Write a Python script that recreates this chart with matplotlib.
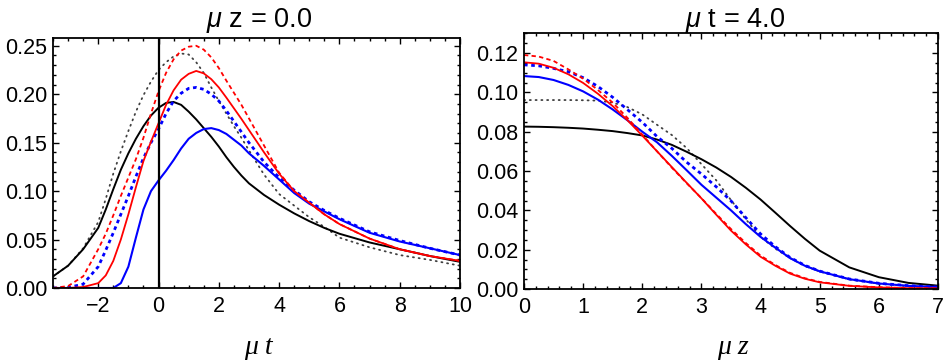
import numpy as np
import matplotlib
matplotlib.use("Agg")
import matplotlib.pyplot as plt
from matplotlib.ticker import MultipleLocator, FormatStrFormatter

plt.rcParams['font.family'] = ['Liberation Sans', 'DejaVu Sans']
plt.rcParams['mathtext.fontset'] = 'custom'
plt.rcParams['mathtext.rm'] = 'Liberation Sans'
plt.rcParams['mathtext.it'] = 'Liberation Sans:italic'
plt.rcParams['axes.unicode_minus'] = True

# ---------------- Left panel data (mu z = 0.0), x = mu t ----------------
t = [-3.5, -3, -2.5, -2, -1.75, -1.5, -1.25, -1, -0.75, -0.5, -0.25, 0, 0.25, 0.5,
     0.75, 1, 1.25, 1.5, 1.75, 2, 2.25, 2.5, 2.75, 3, 3.5, 4, 4.5, 5, 5.5, 6, 7, 8, 9, 10]

left_black = [0.012, 0.023, 0.040, 0.062, 0.081, 0.102, 0.122, 0.139, 0.154, 0.167, 0.178,
              0.186, 0.191, 0.192, 0.189, 0.182, 0.174, 0.165, 0.156, 0.146, 0.135, 0.125,
              0.116, 0.108, 0.096, 0.086, 0.077, 0.069, 0.062, 0.056, 0.047, 0.040, 0.033, 0.027]
left_black_dot = [0.012, 0.023, 0.041, 0.068, 0.092, 0.118, 0.141, 0.162, 0.182, 0.199, 0.213,
                  0.225, 0.233, 0.239, 0.242, 0.241, 0.233, 0.222, 0.207, 0.193, 0.180, 0.167,
                  0.155, 0.142, 0.117, 0.097, 0.085, 0.073, 0.063, 0.052, 0.042, 0.034, 0.029, 0.023]
left_red = [0.000, 0.000, 0.001, 0.005, 0.013, 0.028, 0.050, 0.076, 0.104, 0.131, 0.151,
            0.170, 0.189, 0.204, 0.215, 0.221, 0.224, 0.2215, 0.2155, 0.207, 0.1965, 0.1855,
            0.1745, 0.163, 0.140, 0.118, 0.100, 0.088, 0.076, 0.066, 0.051, 0.040, 0.033, 0.028]
left_red_dash = [0.000, 0.002, 0.012, 0.040, 0.056, 0.075, 0.095, 0.114, 0.133, 0.155, 0.180,
                 0.203, 0.222, 0.236, 0.245, 0.249, 0.250, 0.246, 0.238, 0.227, 0.214, 0.2015,
                 0.189, 0.175, 0.147, 0.119, 0.100, 0.088, 0.076, 0.066, 0.051, 0.040, 0.033, 0.028]
left_blue = [0.000, 0.000, 0.000, 0.000, 0.000, 0.000, 0.005, 0.022, 0.052, 0.081, 0.100,
             0.111, 0.121, 0.132, 0.144, 0.154, 0.160, 0.164, 0.165, 0.163, 0.159, 0.153,
             0.147, 0.139, 0.126, 0.112, 0.098, 0.087, 0.079, 0.071, 0.057, 0.048, 0.041, 0.034]
left_blue_dash = [0.000, 0.0005, 0.004, 0.022, 0.039, 0.057, 0.076, 0.095, 0.115, 0.134, 0.150,
                  0.164, 0.180, 0.193, 0.201, 0.206, 0.207, 0.205, 0.200, 0.193, 0.183, 0.172,
                  0.161, 0.150, 0.130, 0.114, 0.101, 0.089, 0.080, 0.072, 0.058, 0.049, 0.041, 0.034]

# ---------------- Right panel data (mu t = 4.0), x = mu z ----------------
z = [0, 0.25, 0.5, 0.75, 1, 1.25, 1.5, 1.75, 2, 2.25, 2.5, 2.75, 3, 3.25, 3.5, 3.75,
     4, 4.25, 4.5, 4.75, 5, 5.5, 6, 6.5, 7]

right_black = [0.0826, 0.0825, 0.0823, 0.0820, 0.0816, 0.0810, 0.0803, 0.0793, 0.0781,
               0.0760, 0.0733, 0.0698, 0.0660, 0.0618, 0.0570, 0.0515, 0.0455, 0.0388,
               0.0320, 0.0255, 0.0195, 0.0110, 0.0060, 0.0031, 0.0017]
right_black_dot = [0.0961, 0.0961, 0.0961, 0.0961, 0.0960, 0.0958, 0.0948, 0.0925, 0.0888,
                   0.0835, 0.0783, 0.0717, 0.0635, 0.0553, 0.0452, 0.0355, 0.0265, 0.0205,
                   0.0157, 0.0117, 0.0089, 0.0049, 0.0027, 0.0015, 0.0009]
right_red = [0.1153, 0.1146, 0.1125, 0.1092, 0.1048, 0.0993, 0.0930, 0.0858, 0.0780,
             0.0700, 0.0620, 0.0540, 0.0461, 0.0378, 0.0297, 0.0227, 0.0164, 0.0118,
             0.0078, 0.0052, 0.0034, 0.0016, 0.0008, 0.0004, 0.0003]
right_red_dash = [0.1190, 0.1182, 0.1160, 0.1117, 0.1070, 0.1012, 0.0948, 0.0870, 0.0785,
                  0.0700, 0.0617, 0.0538, 0.0462, 0.0382, 0.0305, 0.0234, 0.0170, 0.0122,
                  0.0082, 0.0055, 0.0036, 0.0017, 0.0009, 0.0005, 0.0003]
right_blue = [0.1083, 0.1078, 0.1063, 0.1038, 0.1005, 0.0963, 0.0913, 0.0858, 0.0800,
              0.0746, 0.0677, 0.0604, 0.0530, 0.0465, 0.0400, 0.0330, 0.0265, 0.0210,
              0.0157, 0.0118, 0.0090, 0.0050, 0.0028, 0.0016, 0.0010]
right_blue_dash = [0.1140, 0.1135, 0.1122, 0.1105, 0.1075, 0.1030, 0.0975, 0.0912, 0.0848,
                   0.0775, 0.0715, 0.0645, 0.0585, 0.0520, 0.0448, 0.0363, 0.0280, 0.0215,
                   0.0160, 0.0120, 0.0091, 0.0051, 0.0029, 0.0017, 0.0010]

left_title = r"$\mu$ z = 0.0"
right_title = r"$\mu$ t = 4.0"
left_xlabel = "\u03bc t"
right_xlabel = "\u03bc z"

fig = plt.figure(figsize=(9.48, 3.64), dpi=100)
axL = fig.add_axes([53/948, 1-288/364, (460-53)/948, (288-38)/364])
axR = fig.add_axes([524/948, 1-289/364, (938-524)/948, (289-33)/364])

RED = '#ff0000'
BLUE = '#0000ff'
GRAY = '#404040'

def draw(ax, x, black, dot, red, red_d, blue, blue_d):
    ax.plot(x, dot, color=GRAY, lw=1.3, linestyle=(0, (0.6, 2.6)), dash_capstyle='round')
    ax.plot(x, black, color='black', lw=1.4)
    ax.plot(x, blue, color=BLUE, lw=1.5)
    ax.plot(x, blue_d, color=BLUE, lw=2.0, linestyle=(0, (1.3, 1.3)))
    ax.plot(x, red, color=RED, lw=1.3)
    ax.plot(x, red_d, color=RED, lw=1.3, linestyle=(0, (2.4, 1.8)))

draw(axL, t, left_black, left_black_dot, left_red, left_red_dash, left_blue, left_blue_dash)
axL.axvline(0, color='black', lw=1.6, zorder=5)
draw(axR, z, right_black, right_black_dot, right_red, right_red_dash, right_blue, right_blue_dash)

axL.set_xlim(-3.5, 10)
axL.set_ylim(0, 0.258)
axL.xaxis.set_major_locator(MultipleLocator(2))
axL.xaxis.set_minor_locator(MultipleLocator(0.5))
axL.yaxis.set_major_locator(MultipleLocator(0.05))
axL.yaxis.set_minor_locator(MultipleLocator(0.01))
axL.yaxis.set_major_formatter(FormatStrFormatter('%.2f'))

axR.set_xlim(0, 7)
axR.set_ylim(0, 0.1302)
axR.xaxis.set_major_locator(MultipleLocator(1))
axR.xaxis.set_minor_locator(MultipleLocator(0.2))
axR.yaxis.set_major_locator(MultipleLocator(0.02))
axR.yaxis.set_minor_locator(MultipleLocator(0.005))
axR.yaxis.set_major_formatter(FormatStrFormatter('%.2f'))

for ax in (axL, axR):
    for s in ax.spines.values():
        s.set_linewidth(1.3)
    ax.tick_params(which='both', direction='in', top=True, right=True, width=1.0,
                   labelsize=15.5)
    ax.tick_params(which='major', length=4.5)
    ax.tick_params(which='minor', length=2.5)
    ax.tick_params(axis='x', pad=6)
    ax.tick_params(axis='y', pad=4)

fig.text(259/948, 1-27/364, left_title, fontsize=19.5, ha='center', va='baseline')
fig.text(735/948, 1-27/364, right_title, fontsize=19.5, ha='center', va='baseline')

fig.text(258/948, 1-347/364, left_xlabel, fontsize=20, family='Liberation Serif',
         style='italic', ha='center', va='center')
fig.text(733/948, 1-347/364, right_xlabel, fontsize=20, family='Liberation Serif',
         style='italic', ha='center', va='center')

fig.savefig('out.png', dpi=100)
